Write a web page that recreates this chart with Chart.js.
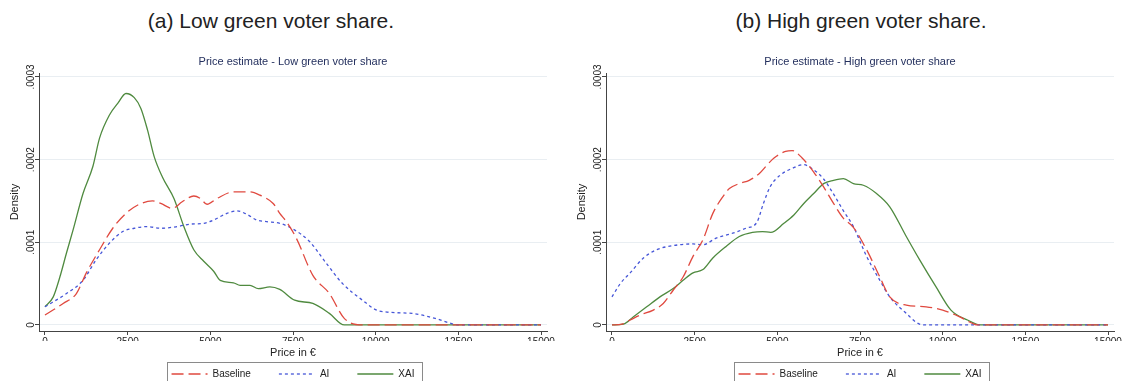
<!DOCTYPE html>
<html>
<head>
<meta charset="utf-8">
<script src="https://cdn.jsdelivr.net/npm/chart.js@4.4.1/dist/chart.umd.min.js"></script>
<style>
  html, body { margin: 0; padding: 0; background: #fff; }
  body { width: 1122px; height: 381px; overflow: hidden; position: relative; }
  .caption {
    position: absolute; top: 9px; width: 400px; text-align: center;
    font: 21px/24px 'Liberation Sans', Arial, sans-serif; color: #222;
  }
  .panel { position: absolute; top: 0; width: 561px; height: 389px; }
</style>
</head>
<body>
<div class="caption" style="left:71px">(a) Low green voter share.</div>
<div class="caption" style="left:661px">(b) High green voter share.</div>
<div class="panel" style="left:0px"><canvas id="lowChart" width="561" height="389"></canvas></div>
<div class="panel" style="left:567px"><canvas id="highChart" width="561" height="389"></canvas></div>
<script>
/* ── data (price in €, kernel density) ───────────────────────────────────── */
const X_TICKS = [0, 2500, 5000, 7500, 10000, 12500, 15000];
const Y_TICKS = [0, 0.0001, 0.0002, 0.0003];
const Y_TICK_LABELS = ['0', '.0001', '.0002', '.0003'];
const SERIES_NAMES = ['Baseline', 'AI', 'XAI'];

// (a) low green voter share
const lowBaselineX = [0, 550, 950, 1250, 1650, 2050, 2450, 2850, 3250, 3500, 3850, 4150, 4500, 4700, 4900, 5200, 5700, 6200, 6500, 6900, 7100, 7300, 7600, 8100, 8600, 9050, 9600, 15000];
const lowBaselineY = [0.000012, 0.000026, 0.000038, 0.000063, 0.000091, 0.000117, 0.000135, 0.000146, 0.000150, 0.000147, 0.000141, 0.000149, 0.000156, 0.000153, 0.000146, 0.000153, 0.000161, 0.000161, 0.000157, 0.000147, 0.000135, 0.000125, 0.000105, 0.000060, 0.000038, 0.000008, 0, 0];
const lowAiX = [0, 650, 1150, 1550, 1950, 2350, 2700, 3100, 3500, 4000, 4400, 4800, 5100, 5500, 5800, 6100, 6400, 6700, 7100, 7500, 8000, 8500, 9000, 9600, 10100, 11100, 11800, 12550, 15000];
const lowAiY = [0.000022, 0.000038, 0.000054, 0.000079, 0.000099, 0.000113, 0.000117, 0.000119, 0.000117, 0.000119, 0.000122, 0.000123, 0.000127, 0.000135, 0.000138, 0.000134, 0.000127, 0.000125, 0.000123, 0.000116, 0.000101, 0.000075, 0.000050, 0.000030, 0.000017, 0.000014, 0.000008, 0, 0];
const lowXaiX = [0, 250, 450, 650, 850, 1150, 1450, 1650, 1950, 2200, 2450, 2700, 2900, 3100, 3300, 3550, 3900, 4200, 4500, 4800, 5100, 5300, 5700, 5900, 6200, 6450, 6800, 7100, 7550, 8100, 8600, 9050, 15000];
const lowXaiY = [0.000022, 0.000034, 0.000058, 0.000087, 0.000115, 0.000159, 0.000192, 0.000226, 0.000254, 0.000268, 0.000280, 0.000275, 0.000262, 0.000236, 0.000204, 0.000179, 0.000153, 0.000119, 0.000091, 0.000077, 0.000065, 0.000054, 0.000051, 0.000048, 0.000048, 0.000044, 0.000046, 0.000043, 0.000030, 0.000026, 0.000014, 0, 0];

// (b) high green voter share
const highBaselineX = [0, 300, 550, 850, 1250, 1550, 1850, 2150, 2450, 2750, 3050, 3350, 3550, 3850, 4150, 4450, 4700, 4900, 5250, 5450, 5750, 6100, 6400, 6700, 7000, 7300, 7700, 8100, 8400, 8900, 9500, 10000, 10500, 10950, 11050, 15000];
const highBaselineY = [0, 0.000001, 0.000006, 0.000012, 0.000018, 0.000026, 0.000042, 0.000058, 0.000083, 0.000103, 0.000135, 0.000155, 0.000165, 0.000171, 0.000175, 0.000183, 0.000194, 0.000202, 0.000210, 0.000211, 0.000202, 0.000185, 0.000167, 0.000147, 0.000129, 0.000118, 0.000091, 0.000058, 0.000034, 0.000024, 0.000022, 0.000018, 0.000010, 0.000001, 0, 0];
const highAiX = [0, 250, 550, 950, 1350, 1850, 2450, 2750, 3150, 3650, 4050, 4380, 4580, 4780, 5080, 5480, 5780, 6090, 6390, 6690, 7000, 7300, 7700, 8100, 8400, 8900, 9300, 9500, 15000];
const highAiY = [0.000034, 0.000050, 0.000063, 0.000081, 0.000091, 0.000096, 0.000098, 0.000097, 0.000105, 0.000111, 0.000117, 0.000124, 0.000147, 0.000167, 0.000181, 0.000190, 0.000194, 0.000188, 0.000177, 0.000159, 0.000138, 0.000119, 0.000083, 0.000054, 0.000034, 0.000014, 0.000001, 0, 0];
const highXaiX = [0, 350, 650, 1050, 1450, 1850, 2150, 2450, 2750, 3050, 3450, 3850, 4250, 4550, 4800, 5200, 5500, 5800, 6100, 6400, 6700, 7000, 7300, 7600, 8000, 8400, 8900, 9300, 9800, 10250, 10750, 11150, 15000];
const highXaiY = [0, 0.000001, 0.000010, 0.000022, 0.000034, 0.000044, 0.000054, 0.000063, 0.000067, 0.000081, 0.000095, 0.000107, 0.000112, 0.000113, 0.000112, 0.000123, 0.000133, 0.000147, 0.000159, 0.000171, 0.000175, 0.000177, 0.000171, 0.000169, 0.000159, 0.000143, 0.000107, 0.000079, 0.000046, 0.000018, 0.000006, 0, 0];

/* ── styling ─────────────────────────────────────────────────────────────── */
const FONT = "'Liberation Sans', Arial, sans-serif";
const TEXT = '#222';
const AXIS = '#444';

const SERIES_STYLE = [
    { color: '#e0493f', dash: [12, 5] },   // Baseline: long dash
    { color: '#4656d8', dash: [3, 3] },    // AI: short dash
    { color: '#4f8a3f', dash: [] },        // XAI: solid
];

const zip = (xs, ys) => xs.map((x, i) => ({ x, y: ys[i] }));

// point-style legend items lose the line dash, so put it back
function legendLabels(chart) {
    return Chart.defaults.plugins.legend.labels.generateLabels(chart).map(item => {
        const ds = chart.data.datasets[item.datasetIndex];
        return {
            ...item,
            strokeStyle: ds.borderColor,
            lineDash: ds.borderDash,
            lineWidth: ds.borderWidth,
        };
    });
}

// draws the grey frame Stata puts round the legend
const legendFrame = {
    id: 'legendFrame',
    afterDraw(chart) {
        const boxes = chart.legend && chart.legend.legendHitBoxes;
        if (!boxes || !boxes.length) return;
        const left  = Math.min(...boxes.map(b => b.left)) - 5;
        const right = Math.max(...boxes.map(b => b.left + b.width)) + 7;
        const cy    = boxes[0].top + boxes[0].height / 2;
        const ctx = chart.ctx;
        ctx.save();
        ctx.strokeStyle = '#8a8a8a';
        ctx.lineWidth = 1;
        ctx.strokeRect(Math.round(left) + 0.5, Math.round(cy - 12) + 0.5, Math.round(right - left), 24);
        ctx.restore();
    },
};

function makeChart(canvasId, subtitle, xsList, ysList) {
    return new Chart(document.getElementById(canvasId).getContext('2d'), {
        type: 'line',
        data: {
            datasets: SERIES_NAMES.map((name, i) => ({
                label: name,
                data: zip(xsList[i], ysList[i]),
                borderColor: SERIES_STYLE[i].color,
                backgroundColor: SERIES_STYLE[i].color,
                borderDash: SERIES_STYLE[i].dash,
                borderWidth: 1.3,
                pointRadius: 0,
                pointStyle: 'line',
                cubicInterpolationMode: 'monotone',
                fill: false,
            })),
        },
        options: {
            responsive: false,
            animation: false,
            devicePixelRatio: 1,
            layout: { padding: { top: 55.8, left: 0, right: 14, bottom: 0 } },
            plugins: {
                tooltip: { enabled: false },
                title: { display: false },
                subtitle: {
                    display: true,
                    text: subtitle,
                    fullSize: false,
                    color: '#24305e',
                    font: { family: FONT, size: 11, weight: 'normal' },
                    padding: { top: 0, bottom: 4 },
                },
                legend: {
                    position: 'bottom',
                    fullSize: false,
                    labels: {
                        usePointStyle: true,
                        pointStyleWidth: 36,
                        padding: 28,
                        color: TEXT,
                        font: { family: FONT, size: 10 },
                        generateLabels: legendLabels,
                    },
                },
            },
            scales: {
                x: {
                    type: 'linear',
                    min: -181,
                    max: 15181,
                    afterBuildTicks: s => { s.ticks = X_TICKS.map(v => ({ value: v })); },
                    afterFit: s => { s.height = 10; },
                    border: { display: true, color: AXIS, width: 1 },
                    grid: { drawOnChartArea: false, drawTicks: true, tickLength: 4, tickColor: AXIS },
                    ticks: {
                        autoSkip: false, maxRotation: 0, minRotation: 0, padding: 1,
                        color: TEXT, font: { family: FONT, size: 10 },
                        callback: v => String(v),
                    },
                    title: {
                        display: true, text: 'Price in €', color: TEXT,
                        font: { family: FONT, size: 11 },
                        padding: { top: 0, bottom: -18.6 },
                    },
                },
                y: {
                    type: 'linear',
                    min: -0.0000073,
                    max: 0.0003048,
                    afterBuildTicks: s => { s.ticks = Y_TICKS.map(v => ({ value: v })); },
                    afterFit: s => { s.width = 39; },
                    border: { display: true, color: AXIS, width: 1 },
                    grid: { color: '#e9eef2', lineWidth: 1, drawTicks: true, tickLength: 4, tickColor: AXIS },
                    ticks: {
                        minRotation: 90, maxRotation: 90, crossAlign: 'center', padding: -9,
                        color: TEXT, font: { family: FONT, size: 10 },
                        callback: v => Y_TICK_LABELS[Y_TICKS.indexOf(v)],
                    },
                    title: {
                        display: true, text: 'Density', color: TEXT,
                        font: { family: FONT, size: 11 },
                        padding: { top: 8.4, bottom: 0 },
                    },
                },
            },
        },
        plugins: [legendFrame],
    });
}

makeChart('lowChart', 'Price estimate - Low green voter share',
    [lowBaselineX, lowAiX, lowXaiX], [lowBaselineY, lowAiY, lowXaiY]);
makeChart('highChart', 'Price estimate - High green voter share',
    [highBaselineX, highAiX, highXaiX], [highBaselineY, highAiY, highXaiY]);
</script>
</body>
</html>
